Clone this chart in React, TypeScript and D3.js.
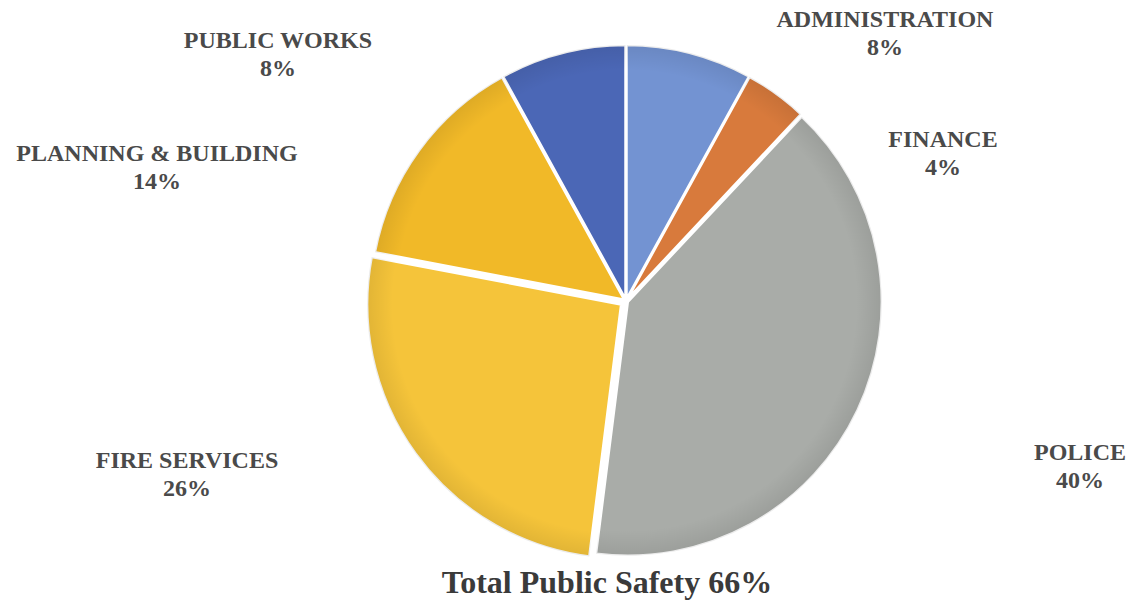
import React from "react";
import * as d3 from "d3";

const categories = ["ADMINISTRATION", "FINANCE", "POLICE", "FIRE SERVICES", "PLANNING & BUILDING", "PUBLIC WORKS"];
const values = [8, 4, 40, 26, 14, 8];
const colors = ["#7393d2", "#d87a3c", "#a9aca8", "#f5c43a", "#f1b928", "#4b67b6"];
const explode = [2, 2, 2, 6, 2, 2];
const labelPos: [number, number][] = [
  [885, 27],
  [943, 147],
  [1080, 460],
  [187, 468],
  [157, 161],
  [278, 48],
];
const title = "Total Public Safety 66%";

export default function App() {
  const W = 1129, H = 607;
  const cx = 626, cy = 301, r = 254;
  const pie = d3.pie<number>().sort(null).value((d) => d)(values);
  const arc = d3.arc<d3.PieArcDatum<number>>().innerRadius(0).outerRadius(r);
  return (
    <svg width={W} height={H} style={{ position: "absolute", left: 0, top: 0, background: "#fff" }}>
      <defs>
        <radialGradient id="shade" cx="0" cy="0" r={r} gradientUnits="userSpaceOnUse">
          <stop offset="0.9" stopColor="#000" stopOpacity={0} />
          <stop offset="1" stopColor="#000" stopOpacity={0.08} />
        </radialGradient>
      </defs>
      <g transform={`translate(${cx},${cy})`}>
        {pie.map((p, i) => {
          const mid = (p.startAngle + p.endAngle) / 2;
          const dx = Math.sin(mid) * explode[i];
          const dy = -Math.cos(mid) * explode[i];
          return (
            <g key={i} transform={`translate(${dx},${dy})`}>
              <path
                d={arc(p) || ""}
                fill={colors[i]}
                stroke="#fff"
                strokeWidth={2.5}
                strokeLinejoin="round"
              />
              <path d={arc(p) || ""} fill="url(#shade)" stroke="none" />
            </g>
          );
        })}
      </g>
      {categories.map((c, i) => (
        <text
          key={c}
          x={labelPos[i][0]}
          y={labelPos[i][1]}
          textAnchor="middle"
          fontFamily="'Liberation Serif', 'Times New Roman', serif"
          fontWeight="bold"
          fontSize={24}
          fill="#4a4a4a"
        >
          <tspan x={labelPos[i][0]} dy={0}>{c}</tspan>
          <tspan x={labelPos[i][0]} dy={28}>{values[i]}%</tspan>
        </text>
      ))}
      <text
        x={607}
        y={593}
        textAnchor="middle"
        fontFamily="'Liberation Serif', 'Times New Roman', serif"
        fontWeight="bold"
        fontSize={32}
        fill="#3a3a3a"
      >
        {title}
      </text>
    </svg>
  );
}
